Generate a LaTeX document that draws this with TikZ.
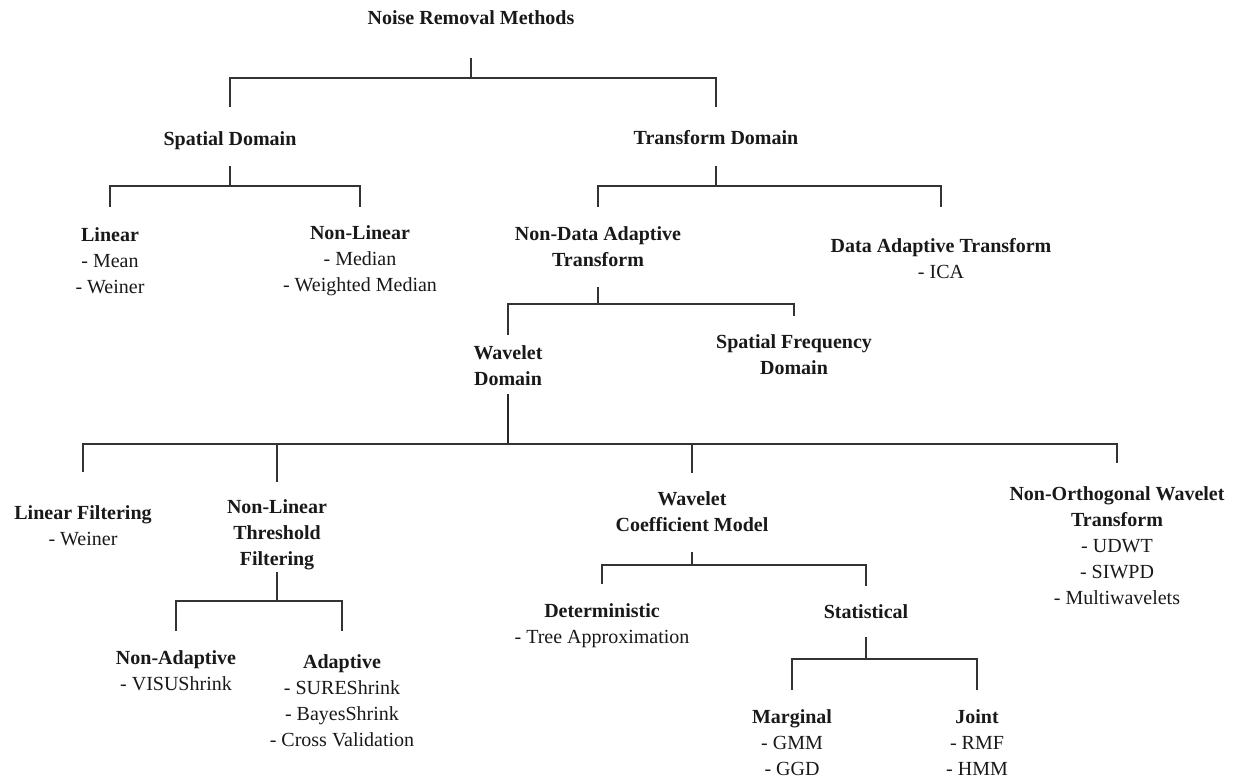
\documentclass[tikz,border=0pt]{standalone}
\usepackage{fontspec}
\setmainfont{Liberation Serif}
\begin{document}
\begin{tikzpicture}[x=0.5pt,y=-0.5pt,
  t/.style={align=center, inner sep=0pt, font=\fontsize{10}{13}\selectfont, text=black!90},
  conn/.style={draw=black!80, line width=0.85pt},
  thick conn/.style={draw=black!85, line width=1.2pt}]
\useasboundingbox (0,0) rectangle (1240,780);
% nodes
\node[t] (root) at (471,18) {\textbf{Noise Removal Methods}};
\node[t] (sd) at (230,141) {\textbf{Spatial Domain}};
\node[t] (td) at (716,138) {\textbf{Transform Domain}};
\node[t] (lin) at (110,261) {\textbf{Linear}\\- Mean\\- Weiner};
\node[t] (nlin) at (360,261) {\textbf{Non-Linear}\\- Median\\- Weighted Median};
\node[t] (nda) at (598,247) {\textbf{Non-Data Adaptive}\\\textbf{Transform}};
\node[t] (da) at (941,259) {\textbf{Data Adaptive Transform}\\- ICA};
\node[t] (wd) at (508,366) {\textbf{Wavelet}\\\textbf{Domain}};
\node[t] (sfd) at (794,355) {\textbf{Spatial Frequency}\\\textbf{Domain}};
\node[t] (lf) at (83,526) {\textbf{Linear Filtering}\\- Weiner};
\node[t] (nlt) at (277,535) {\textbf{Non-Linear}\\\textbf{Threshold}\\\textbf{Filtering}};
\node[t] (wcm) at (692,512) {\textbf{Wavelet}\\\textbf{Coefficient Model}};
\node[t] (now) at (1117,546) {\textbf{Non-Orthogonal Wavelet}\\\textbf{Transform}\\- UDWT\\- SIWPD\\- Multiwavelets};
\node[t] (na) at (176,671) {\textbf{Non-Adaptive}\\- VISUShrink};
\node[t] (ad) at (342,701) {\textbf{Adaptive}\\- SUREShrink\\- BayesShrink\\- Cross Validation};
\node[t] (det) at (602,626) {\textbf{Deterministic}\\- Tree Approximation};
\node[t] (stat) at (866,612) {\textbf{Statistical}};
\node[t] (marg) at (792,743) {\textbf{Marginal}\\- GMM\\- GGD};
\node[t] (joint) at (977,743) {\textbf{Joint}\\- RMF\\- HMM};
% connectors
\draw[conn] (root|-0,58) -- (root|-0,78);
\draw[conn] (sd|-0,107) -- (sd|-0,78) -- (td|-0,78) -- (td|-0,107);
\draw[conn] (sd|-0,166) -- (sd|-0,186);
\draw[conn] (lin|-0,207) -- (lin|-0,186) -- (nlin|-0,186) -- (nlin|-0,207);
\draw[conn] (td|-0,166) -- (td|-0,186);
\draw[conn] (nda|-0,207) -- (nda|-0,186) -- (da|-0,186) -- (da|-0,207);
\draw[conn] (nda|-0,287) -- (nda|-0,304);
\draw[conn] (wd|-0,335) -- (wd|-0,304) -- (sfd|-0,304) -- (sfd|-0,316);
\draw[thick conn] (wd|-0,394) -- (wd|-0,444);
\draw[conn] (lf|-0,472) -- (lf|-0,444) -- (now|-0,444) -- (now|-0,463);
\draw[conn] (nlt|-0,444) -- (nlt|-0,482);
\draw[conn] (wcm|-0,444) -- (wcm|-0,473);
\draw[conn] (nlt|-0,572) -- (nlt|-0,601);
\draw[conn] (na|-0,631) -- (na|-0,601) -- (ad|-0,601) -- (ad|-0,631);
\draw[conn] (wcm|-0,552) -- (wcm|-0,565);
\draw[conn] (det|-0,584) -- (det|-0,565) -- (stat|-0,565) -- (stat|-0,586);
\draw[conn] (stat|-0,637) -- (stat|-0,659);
\draw[conn] (marg|-0,690) -- (marg|-0,659) -- (joint|-0,659) -- (joint|-0,690);
\end{tikzpicture}
\end{document}
